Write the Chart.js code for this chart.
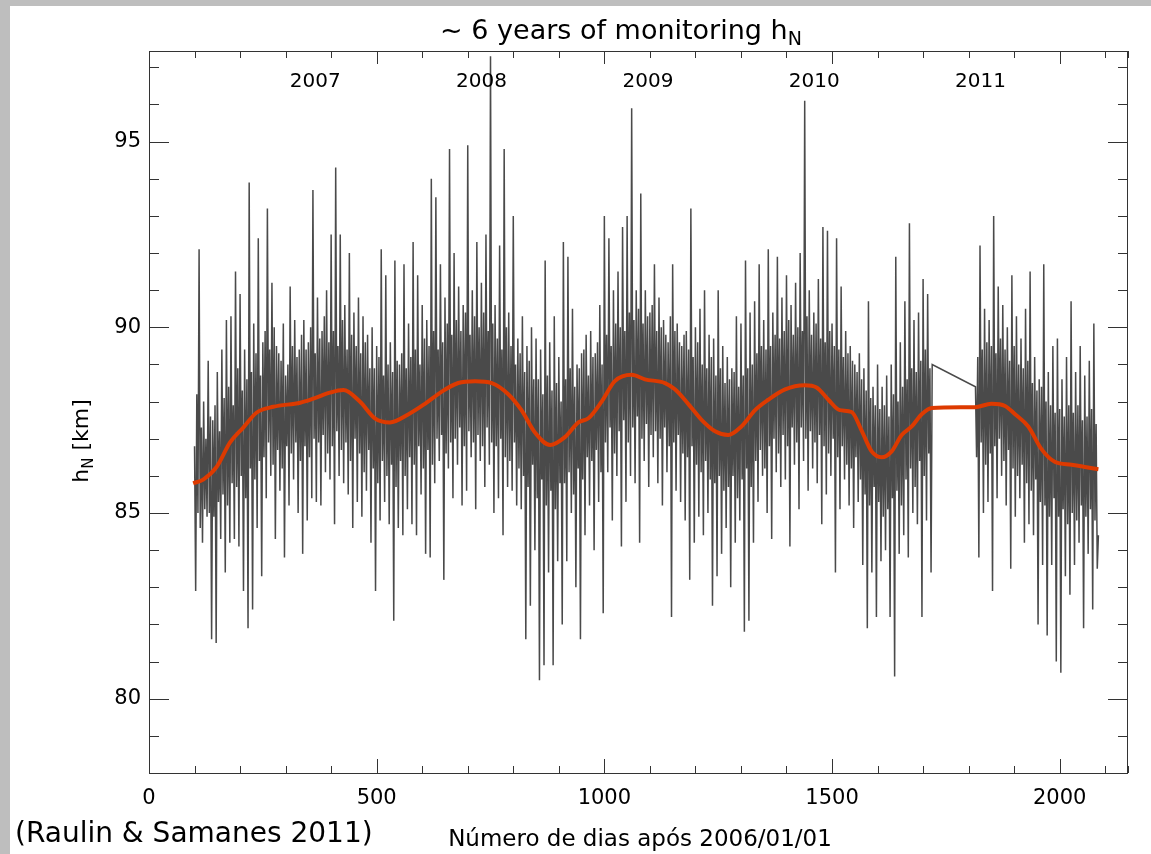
<!DOCTYPE html>
<html>
<head>
<meta charset="utf-8">
<title>~ 6 years of monitoring hN</title>
<script src="https://cdn.jsdelivr.net/npm/chart.js@4.4.1/dist/chart.umd.min.js"></script>
<style>
  html, body { margin: 0; padding: 0; background: #bebebe; }
  #panel { position: absolute; left: 10px; top: 6px; width: 1141px; height: 848px; background: #fff; }
</style>
</head>
<body>
<div id="panel"><canvas id="chart" width="1141" height="848"></canvas></div>
<script>
// h_N (km) every 2.5 days; first block runs to day 1720,
// second block starts at day 1815 (gap in the record in between)
const seg1Start = 100;
const seg2Start = 1815;
const dayStep = 2.5;

const hN1 = [
  86.8, 82.9, 88.2, 85.0, 92.1, 84.6, 87.3, 84.2, 88.0, 85.1, 87.0, 84.9,
  89.1, 85.0, 87.6, 81.6, 87.5, 84.9, 87.9, 81.5, 88.8, 85.3, 87.2, 84.3,
  89.4, 85.5, 88.1, 83.4, 90.2, 85.2, 88.4, 84.2, 90.3, 85.8, 87.9, 84.3,
  91.5, 85.7, 88.9, 84.1, 90.9, 86.0, 88.3, 82.9, 89.4, 85.4, 88.6, 81.9,
  93.9, 86.2, 88.8, 82.4, 90.1, 85.9, 89.3, 84.6, 92.4, 86.4, 88.7, 83.3,
  89.6, 86.5, 89.9, 85.4, 93.2, 86.9, 89.4, 86.0, 91.2, 86.3, 90.0, 84.3,
  89.5, 86.7, 89.3, 85.6, 89.1, 86.2, 90.1, 83.8, 88.7, 86.8, 89.0, 85.2,
  91.1, 86.6, 89.5, 85.9, 90.2, 86.9, 89.2, 85.0, 89.4, 86.4, 89.8, 83.9,
  90.2, 86.8, 89.4, 84.8, 89.6, 86.5, 90.0, 85.4, 93.7, 87.0, 89.3, 85.3,
  90.8, 86.9, 89.7, 85.2, 89.9, 87.1, 90.3, 86.1, 91.0, 86.6, 89.6, 85.9,
  92.5, 86.8, 89.9, 84.7, 94.3, 87.2, 89.5, 86.0, 92.5, 86.7, 90.2, 85.8,
  90.6, 86.9, 89.4, 85.5, 92.0, 86.4, 89.8, 84.6, 90.4, 87.0, 89.5, 85.3,
  90.8, 86.6, 89.3, 84.9, 90.3, 86.1, 89.6, 85.6, 89.8, 86.7, 88.9, 84.2,
  90.0, 86.2, 88.9, 82.9, 89.5, 85.8, 89.2, 84.8, 92.1, 86.4, 88.7, 85.3,
  91.4, 86.0, 89.0, 84.7, 89.6, 86.3, 88.8, 82.1, 91.8, 85.7, 89.1, 84.6,
  89.0, 86.4, 89.3, 84.4, 91.7, 86.0, 88.9, 85.1, 90.1, 86.5, 89.2, 84.7,
  92.3, 86.3, 89.4, 84.4, 91.4, 86.8, 89.0, 85.5, 90.6, 86.2, 89.7, 83.9,
  90.2, 86.7, 89.5, 83.8, 94.0, 86.3, 89.9, 85.8, 93.5, 87.0, 89.4, 86.4,
  91.7, 87.1, 89.6, 83.2, 90.8, 86.6, 90.1, 86.2, 94.8, 86.9, 89.8, 85.4,
  92.0, 87.0, 90.2, 86.3, 91.1, 87.3, 89.9, 85.2, 90.6, 86.8, 90.4, 85.6,
  94.9, 87.2, 89.8, 86.5, 91.0, 86.9, 90.3, 85.1,
  92.3, 87.1, 90.0, 86.4, 91.2, 86.8, 90.4, 85.7, 92.5, 87.3, 89.9, 86.3, 97.3, 86.9, 90.1, 85.0,
  90.6, 86.8, 89.7, 85.4, 92.2, 87.0, 89.4, 84.4, 94.8, 86.5, 90.0, 85.7,
  90.4, 86.4, 89.5, 85.6, 93.0, 86.9, 89.0, 85.2, 89.7, 86.2, 89.3, 85.1,
  90.3, 86.0, 88.8, 81.6, 89.5, 85.7, 89.1, 82.5, 90.0, 86.3, 88.6, 84.0,
  89.7, 85.4, 88.6, 80.5, 89.4, 85.9, 88.2, 80.9, 91.8, 85.2, 88.7, 83.4,
  89.6, 85.6, 88.3, 80.9, 90.3, 85.1, 88.5, 83.7, 89.2, 85.8, 88.0, 82.0,
  92.3, 85.8, 88.6, 83.7, 91.9, 86.1, 88.9, 85.0, 90.5, 85.5, 88.4, 83.0,
  89.0, 86.2, 88.9, 81.6, 89.3, 85.9, 89.4, 84.4, 89.8, 86.5, 88.7, 85.2,
  89.9, 86.4, 89.2, 84.0, 89.3, 86.7, 89.6, 85.3, 90.6, 86.1, 89.0, 82.3,
  93.0, 86.9, 89.8, 86.1, 92.4, 87.3, 89.5, 84.8, 91.0, 86.6, 90.1, 86.0,
  91.5, 87.2, 90.0, 84.1, 92.7, 87.5, 89.9, 85.3, 93.0, 86.9, 90.4, 86.0,
  95.9, 87.3, 90.2, 85.8, 91.0, 87.6, 90.5, 84.2, 93.6, 87.0, 90.1, 86.4,
  91.0, 87.4, 90.3, 85.7, 90.4, 87.1, 90.6, 86.5, 91.7, 87.2, 89.9, 85.8,
  90.8, 87.0, 90.0, 85.2, 90.2, 87.3, 89.8, 86.1, 89.6, 86.8, 90.3, 82.2,
  91.7, 86.9, 89.9, 85.6, 90.1, 87.1, 89.6, 85.3, 89.5, 86.6, 89.8, 84.8,
  89.9, 86.5, 89.4, 83.2, 93.2, 86.8, 89.2, 84.2, 90.0, 86.3, 89.6, 84.9,
  90.5, 86.1, 89.0, 84.4, 91.0, 86.4, 88.9, 85.0, 89.8, 85.9, 89.2, 82.5,
  89.7, 85.8, 88.7, 83.3, 91.0, 86.0, 88.9, 83.9, 89.5, 85.6, 88.5, 84.6,
  89.2, 85.7, 88.6, 83.0, 88.9, 86.0, 88.8, 84.2, 90.3, 85.4, 88.4, 84.8,
  90.1, 85.9, 88.7, 81.8, 91.8, 86.2, 88.9, 82.1, 90.4, 85.7, 89.0, 84.2,
  90.7, 86.4, 89.3, 85.3, 91.7, 86.7, 89.5, 86.0, 90.2, 86.2, 89.4, 85.0,
  92.1, 86.8, 89.5, 84.3, 90.4, 87.0, 89.8, 86.1, 91.9, 86.6, 89.7, 85.7,
  90.8, 87.1, 89.9, 85.9, 91.4, 86.8, 90.2, 84.1, 90.6, 87.3, 89.8, 86.3,
  91.2, 86.9, 90.0, 85.1, 92.0, 87.3, 89.9, 86.4, 96.1, 87.0, 90.3, 85.6,
  91.0, 87.2, 89.8, 86.2, 90.4, 86.9, 90.1, 85.8, 91.3, 87.1, 89.7, 84.7,
  92.7, 86.8, 89.6, 85.5, 92.6, 86.6, 89.9, 86.0, 90.1, 87.0, 89.5, 83.4,
  92.4, 86.5, 89.4, 85.1, 91.1, 86.8, 89.2, 85.9, 89.9, 86.3, 89.3, 85.2,
  89.5, 86.2, 89.1, 84.6, 89.0, 86.5, 88.8, 85.3, 89.3, 85.9, 88.6, 83.6,
  88.9, 85.5, 88.3, 81.9, 90.7, 85.2, 88.1, 83.4, 88.4, 85.7, 87.9, 82.2,
  89.0, 85.3, 87.8, 83.7, 88.4, 84.9, 87.9, 84.0, 88.7, 85.1, 87.6, 82.2,
  89.0, 85.4, 88.2, 80.6, 91.9, 85.6, 88.0, 83.9, 89.6, 85.2, 88.4, 84.4,
  90.7, 85.9, 88.6, 83.8, 92.8, 86.2, 88.9, 85.0, 90.2, 85.7, 88.8, 84.7,
  90.4, 86.4, 89.1, 82.2, 91.3, 86.0, 89.4, 84.8, 90.9, 86.6, 88.9, 83.4, 89.0
];

const hN2 = [
  88.4, 86.5, 89.2, 83.8, 92.2, 86.9, 89.4, 85.0, 90.5, 86.3, 89.6, 85.3,
  90.2, 86.6, 89.5, 82.9, 93.0, 86.8, 89.3, 85.4, 91.1, 87.0, 89.7, 86.0,
  90.6, 86.4, 89.4, 85.2, 90.0, 86.7, 89.1, 83.5, 91.4, 86.2, 89.5, 84.9,
  90.3, 86.0, 89.0, 85.4, 89.7, 86.3, 88.9, 84.2, 90.5, 85.8, 89.1, 84.7,
  91.5, 85.6, 88.5, 84.4, 89.2, 85.9, 88.3, 82.0, 88.6, 85.3, 88.4, 83.6,
  91.7, 85.2, 88.0, 81.7, 88.8, 84.9, 87.9, 83.6, 89.5, 85.4, 87.7, 81.0,
  89.7, 84.9, 87.8, 80.7, 88.6, 85.1, 87.6, 83.3, 89.2, 84.7, 87.9, 82.8,
  90.7, 85.0, 87.7, 83.6, 88.8, 84.8, 87.9, 84.2, 89.5, 85.2, 87.5, 81.9,
  88.7, 84.9, 87.6, 83.9, 89.1, 85.1, 87.8, 82.4, 90.1, 84.8, 87.4, 83.5, 84.4
];

// smoothed curve (red)
const smoothDays = [97, 119, 149, 178, 207, 236, 273, 332, 361, 397, 427, 463, 496, 529, 570,
  606, 643, 679, 716, 753, 789, 818, 848, 881, 914, 943, 965, 994, 1023, 1060,
  1089, 1133, 1155, 1184, 1214, 1243, 1272, 1301, 1331, 1360, 1397, 1440, 1466, 1492, 1517,
  1543, 1565, 1587, 1609, 1631, 1653, 1675, 1697, 1719, 1814, 1850, 1880, 1902, 1931, 1960,
  1989, 2026, 2055, 2085];
const smoothKm = [85.8, 85.9, 86.25, 86.9, 87.3, 87.7, 87.86, 87.97, 88.08, 88.24, 88.31, 88.0, 87.55, 87.44, 87.66,
  87.94, 88.27, 88.5, 88.55, 88.5, 88.2, 87.77, 87.16, 86.83, 87.05, 87.44, 87.55, 88.0, 88.55, 88.72,
  88.6, 88.5, 88.33, 87.94, 87.5, 87.2, 87.1, 87.33, 87.77, 88.05, 88.33, 88.44, 88.38, 88.05, 87.77,
  87.72, 87.22, 86.66, 86.5, 86.66, 87.1, 87.33, 87.66, 87.83, 87.85, 87.94, 87.88, 87.66, 87.33, 86.72,
  86.38, 86.3, 86.24, 86.18];

const yearLabels = ['2007', '2008', '2009', '2010', '2011'];
const yearDays = [365, 730, 1096, 1461, 1826];

const rawPoints = hN1.map((v, i) => ({ x: seg1Start + i * dayStep, y: v }))
  .concat(hN2.map((v, i) => ({ x: seg2Start + i * dayStep, y: v })));
const smoothPoints = smoothDays.map((d, i) => ({ x: d, y: smoothKm[i] }));

const FONT = 'DejaVu Sans';

// draws a run of text pieces [text, size, dy] one after another, centred on x
function drawRich(ctx, pieces, x, y) {
  let total = 0;
  pieces.forEach(p => { ctx.font = p[1] + 'px "' + FONT + '"'; total += ctx.measureText(p[0]).width; });
  let cx = x - total / 2;
  pieces.forEach(p => {
    ctx.font = p[1] + 'px "' + FONT + '"';
    ctx.fillText(p[0], cx, y + p[2]);
    cx += ctx.measureText(p[0]).width;
  });
}

const frameAndText = {
  id: 'frameAndText',
  afterDraw(chart) {
    const { ctx, chartArea: a, scales: { x, y } } = chart;
    ctx.save();
    ctx.strokeStyle = '#333';
    ctx.lineWidth = 1;
    ctx.strokeRect(a.left + 0.5, a.top + 0.5, a.right - a.left - 1, a.bottom - a.top);

    // inward tick marks on all four sides
    ctx.beginPath();
    x.ticks.forEach(t => {
      const px = Math.round(x.getPixelForValue(t.value)) + 0.5;
      const major = t.value % 500 === 0;
      ctx.moveTo(px, a.bottom); ctx.lineTo(px, a.bottom - (major ? 14 : 7));
      ctx.moveTo(px, a.top); ctx.lineTo(px, a.top + (major ? 13 : 7));
    });
    y.ticks.forEach(t => {
      const py = Math.round(y.getPixelForValue(t.value)) + 0.5;
      const major = t.value % 5 === 0;
      ctx.moveTo(a.left, py); ctx.lineTo(a.left + (major ? 20 : 10), py);
      ctx.moveTo(a.right, py); ctx.lineTo(a.right - (major ? 20 : 10), py);
    });
    ctx.stroke();

    ctx.fillStyle = '#000';
    ctx.textBaseline = 'alphabetic';

    // year markers inside the top of the frame
    ctx.textAlign = 'center';
    ctx.font = '20px "' + FONT + '"';
    yearLabels.forEach((lab, i) => {
      ctx.fillText(lab, x.getPixelForValue(yearDays[i]), a.top + 36);
    });

    ctx.textAlign = 'left';
    drawRich(ctx, [['~ 6 years of monitoring h', 27, 0], ['N', 19, 6]], 611, 33);

    drawRich(ctx, [['Número de dias após 2006/01/01', 23, 0]], 630, 840);

    ctx.font = '28px "' + FONT + '"';
    ctx.fillText('(Raulin & Samanes 2011)', 5, 836);

    ctx.translate(78, 435);
    ctx.rotate(-Math.PI / 2);
    drawRich(ctx, [['h', 22, 0], ['N', 15, 5], [' [km]', 22, 0]], 0, 0);
    ctx.restore();
  }
};

new Chart(document.getElementById('chart'), {
  type: 'line',
  data: {
    datasets: [
      {
        data: rawPoints,
        borderColor: '#4a4a4a',
        borderWidth: 1.5,
        pointRadius: 0,
        tension: 0,
        order: 2
      },
      {
        data: smoothPoints,
        borderColor: '#dd3a00',
        borderWidth: 4,
        pointRadius: 0,
        cubicInterpolationMode: 'monotone',
        order: 1
      }
    ]
  },
  options: {
    responsive: false,
    devicePixelRatio: 1,
    animation: false,
    layout: { padding: { left: 0, top: 45, right: 23, bottom: 0 } },
    plugins: { legend: { display: false }, tooltip: { enabled: false } },
    scales: {
      x: {
        type: 'linear',
        min: 0,
        max: 2150,
        bounds: 'data',
        grid: { display: false, drawTicks: false },
        border: { display: false },
        ticks: {
          stepSize: 100,
          includeBounds: false,
          autoSkip: false,
          maxTicksLimit: 100,
          maxRotation: 0,
          padding: 13,
          color: '#000',
          font: { family: FONT, size: 21 },
          callback: v => (v % 500 === 0 ? String(v) : '')
        },
        afterFit: s => { s.height = 81; }
      },
      y: {
        type: 'linear',
        min: 78,
        max: 97.44,
        bounds: 'data',
        grid: { display: false, drawTicks: false },
        border: { display: false },
        ticks: {
          stepSize: 1,
          includeBounds: false,
          autoSkip: false,
          maxTicksLimit: 100,
          padding: 8,
          color: '#000',
          font: { family: FONT, size: 21 },
          callback: v => (v % 5 === 0 ? String(v) : '')
        },
        afterFit: s => { s.width = 139; }
      }
    }
  },
  plugins: [frameAndText]
});
</script>
</body>
</html>
